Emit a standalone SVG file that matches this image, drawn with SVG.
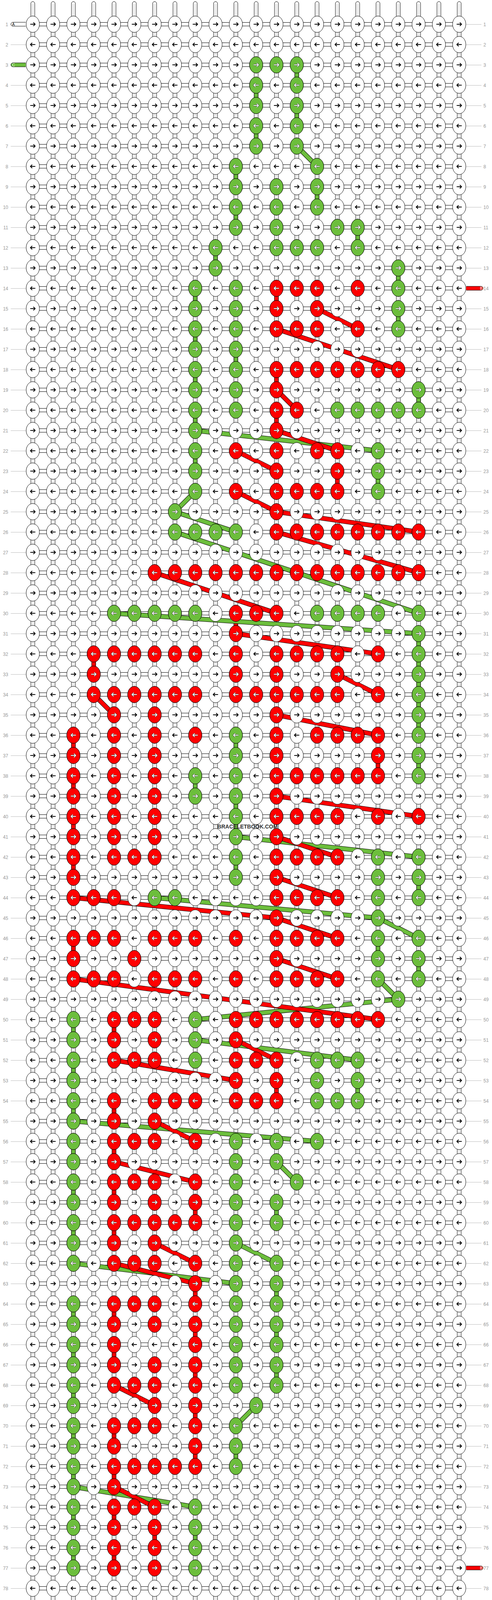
<svg xmlns="http://www.w3.org/2000/svg" xmlns:xlink="http://www.w3.org/1999/xlink" width="1260" height="4180" viewBox="0 0 1260 4180">
<style>
.lb{font-family:"Liberation Sans",Arial,sans-serif;font-size:12px;fill:#999}
.tl{font-family:"Liberation Sans",Arial,sans-serif;font-size:10px}
.wm{font-family:"Liberation Sans",Arial,sans-serif;font-size:14px;font-weight:bold;fill:#333}
</style>
<defs>
<path id="ar" d="M-6.5,0H5.5M1.5,-4.5L6,0L1.5,4.5" fill="none"/>
<path id="al" d="M6.5,0H-5.5M-1.5,-4.5L-6,0L-1.5,4.5" fill="none"/>
<g id="GR"><ellipse rx="17" ry="21" fill="#6cbe3c" stroke="#000"/><use href="#ar" stroke="#333" stroke-width="3.4"/><use href="#ar" stroke="#fff" stroke-width="1.8"/></g>
<g id="GL"><ellipse rx="17" ry="21" fill="#6cbe3c" stroke="#000"/><use href="#al" stroke="#333" stroke-width="3.4"/><use href="#al" stroke="#fff" stroke-width="1.8"/></g>
<g id="RR"><ellipse rx="17" ry="21" fill="#ff0000" stroke="#000"/><use href="#ar" stroke="#333" stroke-width="3.4"/><use href="#ar" stroke="#fff" stroke-width="1.8"/></g>
<g id="RL"><ellipse rx="17" ry="21" fill="#ff0000" stroke="#000"/><use href="#al" stroke="#333" stroke-width="3.4"/><use href="#al" stroke="#fff" stroke-width="1.8"/></g>
<g id="vs"><rect x="-5" y="4" width="10" height="4170" rx="5" fill="#fff" stroke="#000"/><path d="M-1.5,10V4168M1.5,10V4168" stroke="#bbb" stroke-width="0.8"/></g>
<rect id="vc" x="-5" y="0" width="10" height="52" stroke="#000"/>
<pattern id="hp" x="84" y="36" width="52" height="52" patternUnits="userSpaceOnUse">
<rect x="0" y="21" width="52" height="10" fill="#fff"/>
<path d="M0,21.5H52M0,30.5H52" stroke="#000" stroke-width="1"/>
</pattern>
<pattern id="kp" x="58" y="36" width="52" height="104" patternUnits="userSpaceOnUse">
<ellipse cx="26" cy="26" rx="17" ry="21" fill="#fff" stroke="#000"/>
<ellipse cx="26" cy="78" rx="17" ry="21" fill="#fff" stroke="#000"/>
<path d="M19.5,26H31.5M27.5,21.5L32,26L27.5,30.5M32.5,78H20.5M24.5,73.5L20,78L24.5,82.5" fill="none" stroke="#000" stroke-width="2"/>
</pattern>
<pattern id="lp" x="0" y="36" width="1260" height="52" patternUnits="userSpaceOnUse">
<path d="M27.5,26.5H66M1194,26.5H1233" stroke="#bbb" stroke-width="1"/>
</pattern>
<g id="gband">
<line x1="760" y1="374" x2="812" y2="426"/>
<line x1="500" y1="1102" x2="968" y2="1154"/>
<line x1="500" y1="1258" x2="448" y2="1310"/>
<line x1="448" y1="1310" x2="604" y2="1362"/>
<line x1="448" y1="1362" x2="1072" y2="1570"/>
<line x1="292" y1="1570" x2="1072" y2="1622"/>
<line x1="604" y1="2142" x2="1072" y2="2194"/>
<line x1="396" y1="2298" x2="968" y2="2350"/>
<line x1="968" y1="2350" x2="1072" y2="2402"/>
<line x1="968" y1="2506" x2="1020" y2="2558"/>
<line x1="1020" y1="2558" x2="500" y2="2610"/>
<line x1="500" y1="2662" x2="916" y2="2714"/>
<line x1="188" y1="2870" x2="812" y2="2922"/>
<line x1="708" y1="2974" x2="760" y2="3026"/>
<line x1="604" y1="3182" x2="708" y2="3234"/>
<line x1="188" y1="3234" x2="604" y2="3286"/>
<line x1="656" y1="3598" x2="604" y2="3650"/>
<line x1="188" y1="3806" x2="500" y2="3858"/>
</g>
<g id="rband">
<line x1="812" y1="790" x2="916" y2="842"/>
<line x1="708" y1="842" x2="1020" y2="946"/>
<line x1="708" y1="998" x2="760" y2="1050"/>
<line x1="708" y1="1102" x2="864" y2="1154"/>
<line x1="604" y1="1154" x2="708" y2="1206"/>
<line x1="604" y1="1258" x2="708" y2="1310"/>
<line x1="708" y1="1310" x2="1072" y2="1362"/>
<line x1="708" y1="1362" x2="1072" y2="1466"/>
<line x1="396" y1="1466" x2="708" y2="1570"/>
<line x1="604" y1="1622" x2="968" y2="1674"/>
<line x1="864" y1="1726" x2="968" y2="1778"/>
<line x1="240" y1="1778" x2="292" y2="1830"/>
<line x1="708" y1="1830" x2="968" y2="1882"/>
<line x1="708" y1="2038" x2="1072" y2="2090"/>
<line x1="708" y1="2142" x2="864" y2="2194"/>
<line x1="708" y1="2246" x2="864" y2="2298"/>
<line x1="188" y1="2298" x2="708" y2="2350"/>
<line x1="708" y1="2350" x2="864" y2="2402"/>
<line x1="708" y1="2454" x2="864" y2="2506"/>
<line x1="188" y1="2506" x2="968" y2="2610"/>
<line x1="604" y1="2662" x2="708" y2="2714"/>
<line x1="292" y1="2714" x2="604" y2="2766"/>
<line x1="396" y1="2870" x2="500" y2="2922"/>
<line x1="292" y1="2974" x2="500" y2="3026"/>
<line x1="396" y1="3182" x2="500" y2="3234"/>
<line x1="292" y1="3234" x2="500" y2="3286"/>
<line x1="292" y1="3546" x2="396" y2="3598"/>
<line x1="292" y1="3806" x2="396" y2="3858"/>
</g>
</defs>
<rect width="1260" height="4180" fill="#fff"/>
<g id="vertical-strings">
<use href="#vs" x="84"/><use href="#vs" x="136"/><use href="#vs" x="188"/><use href="#vs" x="240"/><use href="#vs" x="292"/><use href="#vs" x="344"/><use href="#vs" x="396"/><use href="#vs" x="448"/><use href="#vs" x="500"/><use href="#vs" x="552"/><use href="#vs" x="604"/><use href="#vs" x="656"/><use href="#vs" x="708"/><use href="#vs" x="760"/><use href="#vs" x="812"/><use href="#vs" x="864"/><use href="#vs" x="916"/><use href="#vs" x="968"/><use href="#vs" x="1020"/><use href="#vs" x="1072"/><use href="#vs" x="1124"/><use href="#vs" x="1176"/>
</g>
<rect id="horizontal-strings" x="84" y="36" width="1092" height="4108" fill="url(#hp)"/>
<g id="connectors">
<g id="green-vertical" fill="#6cbe3c">
<use href="#vc" x="760" y="166"/><use href="#vc" x="656" y="218"/><use href="#vc" x="760" y="270"/><use href="#vc" x="656" y="322"/><use href="#vc" x="604" y="426"/><use href="#vc" x="812" y="478"/><use href="#vc" x="604" y="530"/><use href="#vc" x="916" y="582"/><use href="#vc" x="552" y="634"/><use href="#vc" x="1020" y="686"/><use href="#vc" x="500" y="738"/><use href="#vc" x="1020" y="790"/><use href="#vc" x="500" y="842"/><use href="#vc" x="604" y="894"/><use href="#vc" x="500" y="946"/><use href="#vc" x="1072" y="998"/><use href="#vc" x="500" y="1050"/><use href="#vc" x="500" y="1154"/><use href="#vc" x="968" y="1206"/><use href="#vc" x="1072" y="1622"/><use href="#vc" x="1072" y="1674"/><use href="#vc" x="1072" y="1726"/><use href="#vc" x="1072" y="1778"/><use href="#vc" x="1072" y="1830"/><use href="#vc" x="604" y="1882"/><use href="#vc" x="1072" y="1934"/><use href="#vc" x="500" y="1986"/><use href="#vc" x="604" y="2038"/><use href="#vc" x="604" y="2090"/><use href="#vc" x="604" y="2194"/><use href="#vc" x="1072" y="2246"/><use href="#vc" x="968" y="2402"/><use href="#vc" x="1072" y="2454"/><use href="#vc" x="188" y="2610"/><use href="#vc" x="188" y="2714"/><use href="#vc" x="916" y="2766"/><use href="#vc" x="188" y="2818"/><use href="#vc" x="188" y="2922"/><use href="#vc" x="188" y="3026"/><use href="#vc" x="708" y="3078"/><use href="#vc" x="188" y="3130"/><use href="#vc" x="708" y="3286"/><use href="#vc" x="188" y="3338"/><use href="#vc" x="708" y="3390"/><use href="#vc" x="188" y="3442"/><use href="#vc" x="708" y="3494"/><use href="#vc" x="188" y="3546"/><use href="#vc" x="188" y="3650"/><use href="#vc" x="604" y="3702"/><use href="#vc" x="188" y="3754"/><use href="#vc" x="188" y="3858"/><use href="#vc" x="500" y="3910"/><use href="#vc" x="188" y="3962"/>
</g>
<g id="red-vertical" fill="#ff0000">
<use href="#vc" x="708" y="738"/><use href="#vc" x="708" y="946"/><use href="#vc" x="708" y="1050"/><use href="#vc" x="864" y="1206"/><use href="#vc" x="604" y="1570"/><use href="#vc" x="240" y="1674"/><use href="#vc" x="188" y="1882"/><use href="#vc" x="968" y="1934"/><use href="#vc" x="188" y="1986"/><use href="#vc" x="188" y="2090"/><use href="#vc" x="188" y="2194"/><use href="#vc" x="188" y="2402"/><use href="#vc" x="292" y="2610"/><use href="#vc" x="708" y="2766"/><use href="#vc" x="292" y="2818"/><use href="#vc" x="292" y="2922"/><use href="#vc" x="292" y="3026"/><use href="#vc" x="500" y="3078"/><use href="#vc" x="292" y="3130"/><use href="#vc" x="500" y="3286"/><use href="#vc" x="292" y="3338"/><use href="#vc" x="500" y="3390"/><use href="#vc" x="292" y="3442"/><use href="#vc" x="500" y="3494"/><use href="#vc" x="500" y="3598"/><use href="#vc" x="292" y="3650"/><use href="#vc" x="500" y="3702"/><use href="#vc" x="292" y="3754"/><use href="#vc" x="292" y="3858"/><use href="#vc" x="396" y="3910"/><use href="#vc" x="292" y="3962"/>
</g>
<g id="diagonal-bands">
<use href="#gband" stroke="#000" stroke-width="12"/>
<use href="#gband" stroke="#6cbe3c" stroke-width="10"/>
<use href="#rband" stroke="#000" stroke-width="12"/>
<use href="#rband" stroke="#ff0000" stroke-width="10"/>
</g>
</g>
<rect id="white-knots" x="58" y="36" width="1144" height="4108" fill="url(#kp)"/>
<g id="colored-knots">
<g id="row3" transform="translate(0,166)"><use href="#GR" x="656"/><use href="#GR" x="708"/><use href="#GR" x="760"/></g>
<g id="row4" transform="translate(0,218)"><use href="#GL" x="656"/><use href="#GL" x="760"/></g>
<g id="row5" transform="translate(0,270)"><use href="#GR" x="656"/><use href="#GR" x="760"/></g>
<g id="row6" transform="translate(0,322)"><use href="#GL" x="656"/><use href="#GL" x="760"/></g>
<g id="row7" transform="translate(0,374)"><use href="#GR" x="656"/><use href="#GR" x="760"/></g>
<g id="row8" transform="translate(0,426)"><use href="#GL" x="604"/><use href="#GL" x="812"/></g>
<g id="row9" transform="translate(0,478)"><use href="#GR" x="604"/><use href="#GR" x="708"/><use href="#GR" x="812"/></g>
<g id="row10" transform="translate(0,530)"><use href="#GL" x="604"/><use href="#GL" x="708"/><use href="#GL" x="812"/></g>
<g id="row11" transform="translate(0,582)"><use href="#GR" x="604"/><use href="#GR" x="708"/><use href="#GR" x="864"/><use href="#GR" x="916"/></g>
<g id="row12" transform="translate(0,634)"><use href="#GL" x="552"/><use href="#GL" x="708"/><use href="#GL" x="760"/><use href="#GL" x="812"/><use href="#GL" x="916"/></g>
<g id="row13" transform="translate(0,686)"><use href="#GR" x="552"/><use href="#GR" x="1020"/></g>
<g id="row14" transform="translate(0,738)"><use href="#GL" x="500"/><use href="#GL" x="604"/><use href="#GL" x="1020"/><use href="#RL" x="708"/><use href="#RL" x="760"/><use href="#RL" x="812"/><use href="#RL" x="916"/></g>
<g id="row15" transform="translate(0,790)"><use href="#GR" x="500"/><use href="#GR" x="604"/><use href="#GR" x="1020"/><use href="#RR" x="708"/><use href="#RR" x="812"/></g>
<g id="row16" transform="translate(0,842)"><use href="#GL" x="500"/><use href="#GL" x="604"/><use href="#GL" x="1020"/><use href="#RL" x="708"/><use href="#RL" x="760"/><use href="#RL" x="812"/><use href="#RL" x="916"/></g>
<g id="row17" transform="translate(0,894)"><use href="#GR" x="500"/><use href="#GR" x="604"/></g>
<g id="row18" transform="translate(0,946)"><use href="#GL" x="500"/><use href="#GL" x="604"/><use href="#RL" x="708"/><use href="#RL" x="760"/><use href="#RL" x="812"/><use href="#RL" x="864"/><use href="#RL" x="916"/><use href="#RL" x="968"/><use href="#RL" x="1020"/></g>
<g id="row19" transform="translate(0,998)"><use href="#GR" x="500"/><use href="#GR" x="604"/><use href="#GR" x="1072"/><use href="#RR" x="708"/></g>
<g id="row20" transform="translate(0,1050)"><use href="#GL" x="500"/><use href="#GL" x="604"/><use href="#GL" x="864"/><use href="#GL" x="916"/><use href="#GL" x="968"/><use href="#GL" x="1020"/><use href="#GL" x="1072"/><use href="#RL" x="708"/><use href="#RL" x="760"/></g>
<g id="row21" transform="translate(0,1102)"><use href="#GR" x="500"/><use href="#RR" x="708"/></g>
<g id="row22" transform="translate(0,1154)"><use href="#GL" x="500"/><use href="#GL" x="968"/><use href="#RL" x="604"/><use href="#RL" x="708"/><use href="#RL" x="812"/><use href="#RL" x="864"/></g>
<g id="row23" transform="translate(0,1206)"><use href="#GR" x="500"/><use href="#GR" x="968"/><use href="#RR" x="708"/><use href="#RR" x="864"/></g>
<g id="row24" transform="translate(0,1258)"><use href="#GL" x="500"/><use href="#GL" x="968"/><use href="#RL" x="604"/><use href="#RL" x="708"/><use href="#RL" x="760"/><use href="#RL" x="812"/><use href="#RL" x="864"/></g>
<g id="row25" transform="translate(0,1310)"><use href="#GR" x="448"/><use href="#RR" x="708"/></g>
<g id="row26" transform="translate(0,1362)"><use href="#GL" x="448"/><use href="#GL" x="500"/><use href="#GL" x="552"/><use href="#GL" x="604"/><use href="#RL" x="708"/><use href="#RL" x="760"/><use href="#RL" x="812"/><use href="#RL" x="864"/><use href="#RL" x="916"/><use href="#RL" x="968"/><use href="#RL" x="1020"/><use href="#RL" x="1072"/></g>
<g id="row28" transform="translate(0,1466)"><use href="#RL" x="396"/><use href="#RL" x="448"/><use href="#RL" x="500"/><use href="#RL" x="552"/><use href="#RL" x="604"/><use href="#RL" x="656"/><use href="#RL" x="708"/><use href="#RL" x="760"/><use href="#RL" x="812"/><use href="#RL" x="864"/><use href="#RL" x="916"/><use href="#RL" x="968"/><use href="#RL" x="1020"/><use href="#RL" x="1072"/></g>
<g id="row30" transform="translate(0,1570)"><use href="#GL" x="292"/><use href="#GL" x="344"/><use href="#GL" x="396"/><use href="#GL" x="448"/><use href="#GL" x="500"/><use href="#GL" x="812"/><use href="#GL" x="864"/><use href="#GL" x="916"/><use href="#GL" x="968"/><use href="#GL" x="1072"/><use href="#RL" x="604"/><use href="#RL" x="656"/><use href="#RL" x="708"/></g>
<g id="row31" transform="translate(0,1622)"><use href="#GR" x="1072"/><use href="#RR" x="604"/></g>
<g id="row32" transform="translate(0,1674)"><use href="#GL" x="1072"/><use href="#RL" x="240"/><use href="#RL" x="292"/><use href="#RL" x="344"/><use href="#RL" x="396"/><use href="#RL" x="448"/><use href="#RL" x="500"/><use href="#RL" x="604"/><use href="#RL" x="708"/><use href="#RL" x="760"/><use href="#RL" x="812"/><use href="#RL" x="864"/><use href="#RL" x="968"/></g>
<g id="row33" transform="translate(0,1726)"><use href="#GR" x="1072"/><use href="#RR" x="240"/><use href="#RR" x="604"/><use href="#RR" x="708"/><use href="#RR" x="864"/></g>
<g id="row34" transform="translate(0,1778)"><use href="#GL" x="1072"/><use href="#RL" x="240"/><use href="#RL" x="292"/><use href="#RL" x="344"/><use href="#RL" x="396"/><use href="#RL" x="448"/><use href="#RL" x="500"/><use href="#RL" x="604"/><use href="#RL" x="656"/><use href="#RL" x="708"/><use href="#RL" x="760"/><use href="#RL" x="812"/><use href="#RL" x="864"/><use href="#RL" x="968"/></g>
<g id="row35" transform="translate(0,1830)"><use href="#GR" x="1072"/><use href="#RR" x="292"/><use href="#RR" x="396"/><use href="#RR" x="708"/></g>
<g id="row36" transform="translate(0,1882)"><use href="#GL" x="604"/><use href="#GL" x="1072"/><use href="#RL" x="188"/><use href="#RL" x="292"/><use href="#RL" x="396"/><use href="#RL" x="500"/><use href="#RL" x="708"/><use href="#RL" x="812"/><use href="#RL" x="864"/><use href="#RL" x="916"/><use href="#RL" x="968"/></g>
<g id="row37" transform="translate(0,1934)"><use href="#GR" x="604"/><use href="#GR" x="1072"/><use href="#RR" x="188"/><use href="#RR" x="292"/><use href="#RR" x="396"/><use href="#RR" x="708"/><use href="#RR" x="968"/></g>
<g id="row38" transform="translate(0,1986)"><use href="#GL" x="500"/><use href="#GL" x="604"/><use href="#GL" x="1072"/><use href="#RL" x="188"/><use href="#RL" x="292"/><use href="#RL" x="396"/><use href="#RL" x="708"/><use href="#RL" x="760"/><use href="#RL" x="812"/><use href="#RL" x="864"/><use href="#RL" x="916"/><use href="#RL" x="968"/></g>
<g id="row39" transform="translate(0,2038)"><use href="#GR" x="500"/><use href="#GR" x="604"/><use href="#RR" x="188"/><use href="#RR" x="292"/><use href="#RR" x="396"/><use href="#RR" x="708"/></g>
<g id="row40" transform="translate(0,2090)"><use href="#GL" x="604"/><use href="#RL" x="188"/><use href="#RL" x="292"/><use href="#RL" x="396"/><use href="#RL" x="708"/><use href="#RL" x="760"/><use href="#RL" x="812"/><use href="#RL" x="864"/><use href="#RL" x="968"/><use href="#RL" x="1072"/></g>
<g id="row41" transform="translate(0,2142)"><use href="#GR" x="604"/><use href="#RR" x="188"/><use href="#RR" x="292"/><use href="#RR" x="396"/><use href="#RR" x="708"/></g>
<g id="row42" transform="translate(0,2194)"><use href="#GL" x="604"/><use href="#GL" x="968"/><use href="#GL" x="1072"/><use href="#RL" x="188"/><use href="#RL" x="292"/><use href="#RL" x="344"/><use href="#RL" x="396"/><use href="#RL" x="708"/><use href="#RL" x="760"/><use href="#RL" x="812"/><use href="#RL" x="864"/></g>
<g id="row43" transform="translate(0,2246)"><use href="#GR" x="604"/><use href="#GR" x="968"/><use href="#GR" x="1072"/><use href="#RR" x="188"/><use href="#RR" x="708"/></g>
<g id="row44" transform="translate(0,2298)"><use href="#GL" x="396"/><use href="#GL" x="448"/><use href="#GL" x="968"/><use href="#GL" x="1072"/><use href="#RL" x="188"/><use href="#RL" x="240"/><use href="#RL" x="292"/><use href="#RL" x="708"/><use href="#RL" x="760"/><use href="#RL" x="812"/><use href="#RL" x="864"/></g>
<g id="row45" transform="translate(0,2350)"><use href="#GR" x="968"/><use href="#RR" x="708"/></g>
<g id="row46" transform="translate(0,2402)"><use href="#GL" x="968"/><use href="#GL" x="1072"/><use href="#RL" x="188"/><use href="#RL" x="240"/><use href="#RL" x="292"/><use href="#RL" x="396"/><use href="#RL" x="448"/><use href="#RL" x="500"/><use href="#RL" x="604"/><use href="#RL" x="708"/><use href="#RL" x="760"/><use href="#RL" x="812"/><use href="#RL" x="864"/></g>
<g id="row47" transform="translate(0,2454)"><use href="#GR" x="968"/><use href="#GR" x="1072"/><use href="#RR" x="188"/><use href="#RR" x="344"/><use href="#RR" x="708"/></g>
<g id="row48" transform="translate(0,2506)"><use href="#GL" x="968"/><use href="#GL" x="1072"/><use href="#RL" x="188"/><use href="#RL" x="240"/><use href="#RL" x="292"/><use href="#RL" x="396"/><use href="#RL" x="448"/><use href="#RL" x="500"/><use href="#RL" x="604"/><use href="#RL" x="708"/><use href="#RL" x="760"/><use href="#RL" x="812"/><use href="#RL" x="864"/></g>
<g id="row49" transform="translate(0,2558)"><use href="#GR" x="1020"/></g>
<g id="row50" transform="translate(0,2610)"><use href="#GL" x="188"/><use href="#GL" x="500"/><use href="#RL" x="292"/><use href="#RL" x="344"/><use href="#RL" x="396"/><use href="#RL" x="604"/><use href="#RL" x="656"/><use href="#RL" x="708"/><use href="#RL" x="760"/><use href="#RL" x="812"/><use href="#RL" x="864"/><use href="#RL" x="916"/><use href="#RL" x="968"/></g>
<g id="row51" transform="translate(0,2662)"><use href="#GR" x="188"/><use href="#GR" x="500"/><use href="#RR" x="292"/><use href="#RR" x="396"/><use href="#RR" x="604"/></g>
<g id="row52" transform="translate(0,2714)"><use href="#GL" x="188"/><use href="#GL" x="500"/><use href="#GL" x="812"/><use href="#GL" x="864"/><use href="#GL" x="916"/><use href="#RL" x="292"/><use href="#RL" x="344"/><use href="#RL" x="396"/><use href="#RL" x="604"/><use href="#RL" x="656"/><use href="#RL" x="708"/></g>
<g id="row53" transform="translate(0,2766)"><use href="#GR" x="188"/><use href="#GR" x="812"/><use href="#GR" x="916"/><use href="#RR" x="604"/><use href="#RR" x="708"/></g>
<g id="row54" transform="translate(0,2818)"><use href="#GL" x="188"/><use href="#GL" x="812"/><use href="#GL" x="864"/><use href="#GL" x="916"/><use href="#RL" x="292"/><use href="#RL" x="396"/><use href="#RL" x="448"/><use href="#RL" x="500"/><use href="#RL" x="604"/><use href="#RL" x="656"/><use href="#RL" x="708"/></g>
<g id="row55" transform="translate(0,2870)"><use href="#GR" x="188"/><use href="#RR" x="292"/><use href="#RR" x="396"/></g>
<g id="row56" transform="translate(0,2922)"><use href="#GL" x="188"/><use href="#GL" x="604"/><use href="#GL" x="708"/><use href="#GL" x="812"/><use href="#RL" x="292"/><use href="#RL" x="344"/><use href="#RL" x="396"/><use href="#RL" x="500"/></g>
<g id="row57" transform="translate(0,2974)"><use href="#GR" x="188"/><use href="#GR" x="604"/><use href="#GR" x="708"/><use href="#RR" x="292"/></g>
<g id="row58" transform="translate(0,3026)"><use href="#GL" x="188"/><use href="#GL" x="604"/><use href="#GL" x="760"/><use href="#RL" x="292"/><use href="#RL" x="344"/><use href="#RL" x="396"/><use href="#RL" x="500"/></g>
<g id="row59" transform="translate(0,3078)"><use href="#GR" x="188"/><use href="#GR" x="604"/><use href="#GR" x="708"/><use href="#RR" x="292"/><use href="#RR" x="396"/><use href="#RR" x="500"/></g>
<g id="row60" transform="translate(0,3130)"><use href="#GL" x="188"/><use href="#GL" x="604"/><use href="#GL" x="708"/><use href="#RL" x="292"/><use href="#RL" x="344"/><use href="#RL" x="396"/><use href="#RL" x="448"/><use href="#RL" x="500"/></g>
<g id="row61" transform="translate(0,3182)"><use href="#GR" x="188"/><use href="#GR" x="604"/><use href="#RR" x="292"/><use href="#RR" x="396"/></g>
<g id="row62" transform="translate(0,3234)"><use href="#GL" x="188"/><use href="#GL" x="604"/><use href="#GL" x="708"/><use href="#RL" x="292"/><use href="#RL" x="344"/><use href="#RL" x="396"/><use href="#RL" x="500"/></g>
<g id="row63" transform="translate(0,3286)"><use href="#GR" x="604"/><use href="#GR" x="708"/><use href="#RR" x="500"/></g>
<g id="row64" transform="translate(0,3338)"><use href="#GL" x="188"/><use href="#GL" x="604"/><use href="#GL" x="708"/><use href="#RL" x="292"/><use href="#RL" x="344"/><use href="#RL" x="396"/><use href="#RL" x="500"/></g>
<g id="row65" transform="translate(0,3390)"><use href="#GR" x="188"/><use href="#GR" x="604"/><use href="#GR" x="708"/><use href="#RR" x="292"/><use href="#RR" x="396"/><use href="#RR" x="500"/></g>
<g id="row66" transform="translate(0,3442)"><use href="#GL" x="188"/><use href="#GL" x="604"/><use href="#GL" x="708"/><use href="#RL" x="292"/><use href="#RL" x="500"/></g>
<g id="row67" transform="translate(0,3494)"><use href="#GR" x="188"/><use href="#GR" x="604"/><use href="#GR" x="708"/><use href="#RR" x="292"/><use href="#RR" x="396"/><use href="#RR" x="500"/></g>
<g id="row68" transform="translate(0,3546)"><use href="#GL" x="188"/><use href="#GL" x="604"/><use href="#GL" x="708"/><use href="#RL" x="292"/><use href="#RL" x="344"/><use href="#RL" x="396"/><use href="#RL" x="500"/></g>
<g id="row69" transform="translate(0,3598)"><use href="#GR" x="188"/><use href="#GR" x="656"/><use href="#RR" x="396"/><use href="#RR" x="500"/></g>
<g id="row70" transform="translate(0,3650)"><use href="#GL" x="188"/><use href="#GL" x="604"/><use href="#RL" x="292"/><use href="#RL" x="344"/><use href="#RL" x="396"/><use href="#RL" x="500"/></g>
<g id="row71" transform="translate(0,3702)"><use href="#GR" x="188"/><use href="#GR" x="604"/><use href="#RR" x="292"/><use href="#RR" x="500"/></g>
<g id="row72" transform="translate(0,3754)"><use href="#GL" x="188"/><use href="#GL" x="604"/><use href="#RL" x="292"/><use href="#RL" x="344"/><use href="#RL" x="396"/><use href="#RL" x="448"/><use href="#RL" x="500"/></g>
<g id="row73" transform="translate(0,3806)"><use href="#GR" x="188"/><use href="#RR" x="292"/></g>
<g id="row74" transform="translate(0,3858)"><use href="#GL" x="188"/><use href="#GL" x="500"/><use href="#RL" x="292"/><use href="#RL" x="344"/><use href="#RL" x="396"/></g>
<g id="row75" transform="translate(0,3910)"><use href="#GR" x="188"/><use href="#GR" x="500"/><use href="#RR" x="292"/><use href="#RR" x="396"/></g>
<g id="row76" transform="translate(0,3962)"><use href="#GL" x="188"/><use href="#GL" x="500"/><use href="#RL" x="292"/><use href="#RL" x="396"/></g>
<g id="row77" transform="translate(0,4014)"><use href="#GR" x="188"/><use href="#GR" x="500"/><use href="#RR" x="292"/><use href="#RR" x="396"/></g>
</g>
<rect id="label-lines" x="0" y="36" width="1260" height="4108" fill="url(#lp)"/>
<g id="string-tabs">
<g id="tab-A-start"><path d="M66,57H33A5,5 0 0 0 33,67H66" fill="#fff" stroke="#000"/><text class="tl" x="31" y="66" fill="#000">A</text></g>
<g id="tab-C-start"><path d="M66,161H33A5,5 0 0 0 33,171H66" fill="#6cbe3c" stroke="#000"/><text class="tl" x="31" y="170" fill="#fff">C</text></g>
<g id="tab-B-start"><path d="M1194,733H1232A5,5 0 0 1 1232,743H1194" fill="#ff0000" stroke="#000"/><text class="tl" x="1236" y="742" fill="#fff" text-anchor="end">B</text></g>
<g id="tab-B-end"><path d="M1194,4009H1232A5,5 0 0 1 1232,4019H1194" fill="#ff0000" stroke="#000"/><text class="tl" x="1236" y="4018" fill="#fff" text-anchor="end">B</text></g>
<g id="tab-A-end"><path d="M1194,4113H1232A5,5 0 0 1 1232,4123H1194" fill="#fff" stroke="#000"/><text class="tl" x="1236" y="4122" fill="#000" text-anchor="end">A</text></g>
</g>
<g id="row-labels-left" class="lb" text-anchor="end">
<text x="21" y="66.5">1</text><text x="21" y="118.5">2</text><text x="21" y="170.5">3</text><text x="21" y="222.5">4</text><text x="21" y="274.5">5</text><text x="21" y="326.5">6</text><text x="21" y="378.5">7</text><text x="21" y="430.5">8</text><text x="21" y="482.5">9</text><text x="21" y="534.5">10</text><text x="21" y="586.5">11</text><text x="21" y="638.5">12</text><text x="21" y="690.5">13</text><text x="21" y="742.5">14</text><text x="21" y="794.5">15</text><text x="21" y="846.5">16</text><text x="21" y="898.5">17</text><text x="21" y="950.5">18</text><text x="21" y="1002.5">19</text><text x="21" y="1054.5">20</text><text x="21" y="1106.5">21</text><text x="21" y="1158.5">22</text><text x="21" y="1210.5">23</text><text x="21" y="1262.5">24</text><text x="21" y="1314.5">25</text><text x="21" y="1366.5">26</text><text x="21" y="1418.5">27</text><text x="21" y="1470.5">28</text><text x="21" y="1522.5">29</text><text x="21" y="1574.5">30</text><text x="21" y="1626.5">31</text><text x="21" y="1678.5">32</text><text x="21" y="1730.5">33</text><text x="21" y="1782.5">34</text><text x="21" y="1834.5">35</text><text x="21" y="1886.5">36</text><text x="21" y="1938.5">37</text><text x="21" y="1990.5">38</text><text x="21" y="2042.5">39</text><text x="21" y="2094.5">40</text><text x="21" y="2146.5">41</text><text x="21" y="2198.5">42</text><text x="21" y="2250.5">43</text><text x="21" y="2302.5">44</text><text x="21" y="2354.5">45</text><text x="21" y="2406.5">46</text><text x="21" y="2458.5">47</text><text x="21" y="2510.5">48</text><text x="21" y="2562.5">49</text><text x="21" y="2614.5">50</text><text x="21" y="2666.5">51</text><text x="21" y="2718.5">52</text><text x="21" y="2770.5">53</text><text x="21" y="2822.5">54</text><text x="21" y="2874.5">55</text><text x="21" y="2926.5">56</text><text x="21" y="2978.5">57</text><text x="21" y="3030.5">58</text><text x="21" y="3082.5">59</text><text x="21" y="3134.5">60</text><text x="21" y="3186.5">61</text><text x="21" y="3238.5">62</text><text x="21" y="3290.5">63</text><text x="21" y="3342.5">64</text><text x="21" y="3394.5">65</text><text x="21" y="3446.5">66</text><text x="21" y="3498.5">67</text><text x="21" y="3550.5">68</text><text x="21" y="3602.5">69</text><text x="21" y="3654.5">70</text><text x="21" y="3706.5">71</text><text x="21" y="3758.5">72</text><text x="21" y="3810.5">73</text><text x="21" y="3862.5">74</text><text x="21" y="3914.5">75</text><text x="21" y="3966.5">76</text><text x="21" y="4018.5">77</text><text x="21" y="4070.5">78</text><text x="21" y="4122.5">79</text>
</g>
<g id="row-labels-right" class="lb">
<text x="1238" y="66.5">1</text><text x="1238" y="118.5">2</text><text x="1238" y="170.5">3</text><text x="1238" y="222.5">4</text><text x="1238" y="274.5">5</text><text x="1238" y="326.5">6</text><text x="1238" y="378.5">7</text><text x="1238" y="430.5">8</text><text x="1238" y="482.5">9</text><text x="1238" y="534.5">10</text><text x="1238" y="586.5">11</text><text x="1238" y="638.5">12</text><text x="1238" y="690.5">13</text><text x="1238" y="742.5">14</text><text x="1238" y="794.5">15</text><text x="1238" y="846.5">16</text><text x="1238" y="898.5">17</text><text x="1238" y="950.5">18</text><text x="1238" y="1002.5">19</text><text x="1238" y="1054.5">20</text><text x="1238" y="1106.5">21</text><text x="1238" y="1158.5">22</text><text x="1238" y="1210.5">23</text><text x="1238" y="1262.5">24</text><text x="1238" y="1314.5">25</text><text x="1238" y="1366.5">26</text><text x="1238" y="1418.5">27</text><text x="1238" y="1470.5">28</text><text x="1238" y="1522.5">29</text><text x="1238" y="1574.5">30</text><text x="1238" y="1626.5">31</text><text x="1238" y="1678.5">32</text><text x="1238" y="1730.5">33</text><text x="1238" y="1782.5">34</text><text x="1238" y="1834.5">35</text><text x="1238" y="1886.5">36</text><text x="1238" y="1938.5">37</text><text x="1238" y="1990.5">38</text><text x="1238" y="2042.5">39</text><text x="1238" y="2094.5">40</text><text x="1238" y="2146.5">41</text><text x="1238" y="2198.5">42</text><text x="1238" y="2250.5">43</text><text x="1238" y="2302.5">44</text><text x="1238" y="2354.5">45</text><text x="1238" y="2406.5">46</text><text x="1238" y="2458.5">47</text><text x="1238" y="2510.5">48</text><text x="1238" y="2562.5">49</text><text x="1238" y="2614.5">50</text><text x="1238" y="2666.5">51</text><text x="1238" y="2718.5">52</text><text x="1238" y="2770.5">53</text><text x="1238" y="2822.5">54</text><text x="1238" y="2874.5">55</text><text x="1238" y="2926.5">56</text><text x="1238" y="2978.5">57</text><text x="1238" y="3030.5">58</text><text x="1238" y="3082.5">59</text><text x="1238" y="3134.5">60</text><text x="1238" y="3186.5">61</text><text x="1238" y="3238.5">62</text><text x="1238" y="3290.5">63</text><text x="1238" y="3342.5">64</text><text x="1238" y="3394.5">65</text><text x="1238" y="3446.5">66</text><text x="1238" y="3498.5">67</text><text x="1238" y="3550.5">68</text><text x="1238" y="3602.5">69</text><text x="1238" y="3654.5">70</text><text x="1238" y="3706.5">71</text><text x="1238" y="3758.5">72</text><text x="1238" y="3810.5">73</text><text x="1238" y="3862.5">74</text><text x="1238" y="3914.5">75</text><text x="1238" y="3966.5">76</text><text x="1238" y="4018.5">77</text><text x="1238" y="4070.5">78</text><text x="1238" y="4122.5">79</text>
</g>
<text id="watermark" class="wm" x="634" y="2121" text-anchor="middle">BRACELETBOOK.COM</text>
</svg>
